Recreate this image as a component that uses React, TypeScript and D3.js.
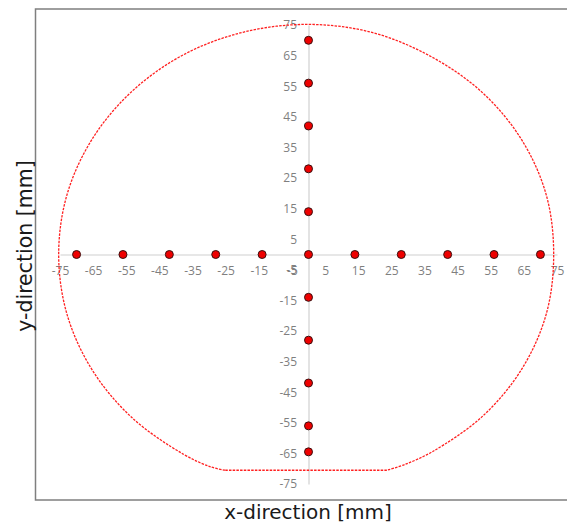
import { useEffect, useRef } from "react";
import * as d3 from "d3";

// tick labels (mm)
const xTicks = [-75, -65, -55, -45, -35, -25, -15, -5, 5, 15, 25, 35, 45, 55, 65, 75];
const yTicks = [-75, -65, -55, -45, -35, -25, -15, -5, 5, 15, 25, 35, 45, 55, 65, 75];

// measurement points along the two axes
const xPoints: [number, number][] = [
  [-70, 0], [-56, 0], [-42, 0], [-28, 0], [-14, 0], [0, 0],
  [14, 0], [28, 0], [42, 0], [56, 0], [70, 0],
];
const yPoints: [number, number][] = [
  [0, 70], [0, 56], [0, 42], [0, 28], [0, 14],
  [0, -14], [0, -28], [0, -42], [0, -56], [0, -64.5],
];

// outline of the part (flat edge at the bottom)
const outline: [number, number][] = [
  [-25.2, -70.5], [-29.5, -69.4], [-37.7, -65.3], [-53.3, -53.3], [-65.3, -37.7],
  [-72.9, -19.5], [-75.4, 0], [-72.9, 19.5], [-65.3, 37.7], [-53.3, 53.3],
  [-37.7, 65.3], [-19.5, 72.7], [0, 75.2], [19.4, 72.5], [37.3, 64.5],
  [52.7, 52.7], [64.5, 37.2], [71.8, 19.3], [74, 0], [71.8, -19.3],
  [64.5, -37.2], [52.7, -52.7], [37.3, -64.5], [29.1, -68.6], [23.7, -70.5],
];

const W = 567;
const H = 525;

export default function App() {
  const svgRef = useRef<SVGSVGElement>(null);

  useEffect(() => {
    if (!svgRef.current) return;
    const svg = d3.select(svgRef.current);
    svg.selectAll("*").remove();

    const x = d3.scaleLinear().domain([-75, 75]).range([60, 557]);
    const y = d3.scaleLinear().domain([-75, 75]).range([484, 25]);

    // frame
    svg
      .append("rect")
      .attr("x", 35.5)
      .attr("y", 9)
      .attr("width", 560)
      .attr("height", 491)
      .attr("fill", "none")
      .attr("stroke", "#7f7f7f")
      .attr("stroke-width", 1.5);

    const tickFont = "'Open Sans', sans-serif";
    const titleFont = "'DejaVu Sans', Verdana, sans-serif";

    svg
      .append("g")
      .attr("transform", `translate(0,${y(0)})`)
      .call(d3.axisBottom(x).tickValues(xTicks).tickSize(0).tickPadding(12).tickFormat((d) => String(d)))
      .call((g) => g.select(".domain").attr("stroke", "#d0d0d0").attr("stroke-width", 1.2))
      .call((g) =>
        g.selectAll(".tick text").attr("fill", "#7f7f7f").attr("font-size", "12px").attr("font-family", tickFont),
      );

    svg
      .append("g")
      .attr("transform", `translate(${x(0)},0)`)
      .call(d3.axisLeft(y).tickValues(yTicks).tickSize(0).tickPadding(11.5).tickFormat((d) => String(d)))
      .call((g) => g.select(".domain").attr("stroke", "#d0d0d0").attr("stroke-width", 1.2))
      .call((g) =>
        g.selectAll(".tick text").attr("fill", "#7f7f7f").attr("font-size", "12px").attr("font-family", tickFont),
      );

    const line = d3
      .line<[number, number]>()
      .x((d) => x(d[0]))
      .y((d) => y(d[1]))
      .curve(d3.curveCatmullRom);

    svg
      .append("path")
      .attr("d", line(outline) + "Z")
      .attr("fill", "none")
      .attr("stroke", "#ff2020")
      .attr("stroke-width", 1.3)
      .attr("stroke-dasharray", "2.5,1.2");

    svg
      .append("g")
      .selectAll("circle")
      .data([...xPoints, ...yPoints])
      .join("circle")
      .attr("cx", (d) => x(d[0]))
      .attr("cy", (d) => y(d[1]))
      .attr("r", 4)
      .attr("fill", "#ee0000")
      .attr("stroke", "#3a1010")
      .attr("stroke-width", 1);

    svg
      .append("text")
      .attr("x", 308)
      .attr("y", 519)
      .attr("text-anchor", "middle")
      .attr("font-family", titleFont)
      .attr("font-size", "20px")
      .attr("fill", "#1a1a1a")
      .text("x-direction [mm]");

    svg
      .append("text")
      .attr("transform", `translate(31.5,246) rotate(-90)`)
      .attr("text-anchor", "middle")
      .attr("font-family", titleFont)
      .attr("font-size", "20.5px")
      .attr("fill", "#1a1a1a")
      .text("y-direction [mm]");
  }, []);

  return (
    <svg
      ref={svgRef}
      width={W}
      height={H}
      style={{ position: "absolute", left: 0, top: 0, background: "#fff" }}
    />
  );
}
